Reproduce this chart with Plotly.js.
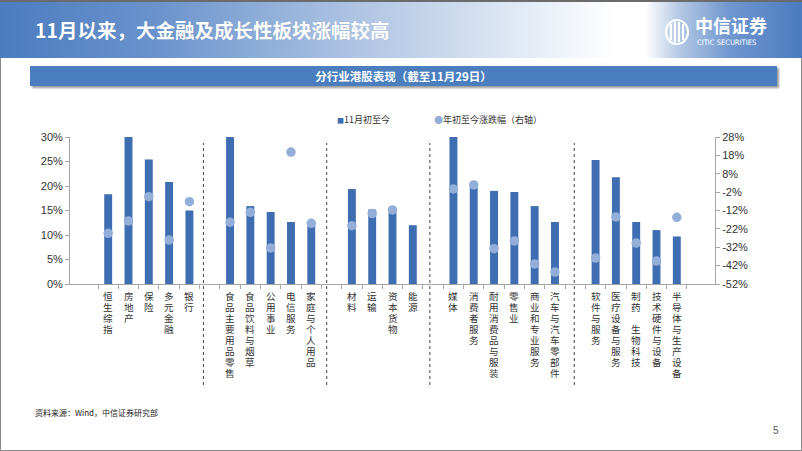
<!DOCTYPE html>
<html>
<head>
<meta charset="utf-8">
<script src="https://cdn.plot.ly/plotly-3.0.1.min.js"></script>
<style>
  html, body { margin:0; padding:0; width:802px; height:451px; overflow:hidden; background:#fff; }
  #frame { position:absolute; left:0; top:0; width:802px; height:451px; box-sizing:border-box; border:1px solid #8a8a8a; }
  #header { position:absolute; left:0; top:0; width:802px; height:58px; box-sizing:border-box; border-top:2px solid #6b6b6b;
    background:linear-gradient(to right, #4a7cc0 0px, #6b94cd 160px, #a6bee0 330px, #dbe5f3 500px, #ffffff 615px, #ffffff 645px, #b3c7e4 680px, #6f97cf 730px, #4a7bc0 802px); }
  #title { position:absolute; left:35px; top:15px; line-height:26px; font-family:"Noto Sans CJK SC", sans-serif; font-weight:bold; font-size:19.5px; color:#fff; white-space:nowrap; text-shadow:0 0 1px rgba(0,0,0,0.15); }
  #logoCn { position:absolute; left:695px; top:17px; line-height:20px; height:20px; font-family:"Liberation Sans","Noto Sans CJK SC", sans-serif; font-weight:bold; font-size:18px; color:#fff; white-space:nowrap; }
  #logoEn { position:absolute; left:697px; top:39px; line-height:8px; height:8px; font-family:"DejaVu Sans Condensed","Liberation Sans Narrow","Liberation Sans",sans-serif; font-size:7.5px; color:#fff; white-space:nowrap; }
  #logoSvg { position:absolute; left:662px; top:18px; }
  #banner { position:absolute; left:30px; top:66px; width:747px; height:20px; background:#4a7ebf; box-shadow:2px 2px 2px #9a9a9a;
    font-family:"Noto Sans CJK SC", sans-serif; font-weight:bold; font-size:11.5px; color:#fff; text-align:center; line-height:20px; }
  #source { position:absolute; left:35px; top:407px; line-height:12px; font-family:"Noto Sans CJK SC", sans-serif; font-size:8px; color:#222; }
  #page { position:absolute; left:773px; top:425px; line-height:12px; font-family:"Liberation Sans", sans-serif; font-size:10px; color:#555; }
  #chart { position:absolute; left:0; top:0; width:802px; height:451px; z-index:2; }
</style>
</head>
<body>
<div id="frame"></div>
<div id="header">
  <div id="title">11月以来，大金融及成长性板块涨幅较高</div>
</div>
<svg id="logoSvg" width="30" height="30" viewBox="0 0 30 30">
  <ellipse cx="15" cy="14" rx="11" ry="12" fill="none" stroke="#fff" stroke-width="2"/>
  <rect x="8" y="6" width="2" height="16" fill="#fff"/>
  <rect x="12" y="4" width="2" height="20" fill="#fff"/>
  <rect x="16" y="4" width="2" height="20" fill="#fff"/>
  <rect x="20" y="6" width="2" height="16" fill="#fff"/>
</svg>
<div id="logoCn">中信证券</div>
<div id="logoEn">CITIC SECURITIES</div>
<div id="banner">分行业港股表现（截至11月29日）</div>
<div id="source">资料来源：Wind，中信证券研究部</div>
<div id="page">5</div>
<div id="chart"></div>
<script>
// ---- data ----
var categories = ['恒生综指','房地产','保险','多元金融','银行',' ',
  '食品主要用品零售','食品饮料与烟草','公用事业','电信服务','家庭与个人用品','  ',
  '材料','运输','资本货物','能源','   ',
  '媒体','消费者服务','耐用消费品与服装','零售业','商业和专业服务','汽车与汽车零部件','    ',
  '软件与服务','医疗设备与服务','制药、生物科技','技术硬件与设备','半导体与生产设备'];
var mtdChange = [18.3, 31, 25.4, 20.8, 15.0, null,
  31, 15.9, 14.7, 12.65, 12.2, null,
  19.4, 15.2, 15.1, 12.0, null,
  31, 20.1, 19.0, 18.8, 15.9, 12.65, null,
  25.3, 21.8, 12.65, 11.0, 9.7];
var ytdChange = [-24.4, -17.7, -4.5, -28.1, -7.2, null,
  -18.4, -13.0, -32.4, 19.8, -19.0, null,
  -20.3, -13.7, -11.7, null, null,
  -0.3, 1.9, -32.8, -28.6, -41.1, -45.5, null,
  -37.9, -15.5, -29.7, -39.5, -15.7];
var seriesNames = ['11月初至今', '年初至今涨跌幅（右轴）'];
var leftTicks = [0, 5, 10, 15, 20, 25, 30];
var rightTicks = [-52, -42, -32, -22, -12, -2, 8, 18, 28];
var dividerSlots = [4.69, 10.76, 15.84, 22.95];

var barColor = '#3f6db1';
var dotColor = '#93afd9';
var numFont = 'Liberation Sans, Arial, sans-serif';
var cjkFont = 'Noto Sans CJK SC, sans-serif';
var labelFont = 'Liberation Sans, Noto Sans CJK SC, sans-serif';

var traces = [
  { type:'bar', name:seriesNames[0], x:categories, y:mtdChange, marker:{color:barColor}, showlegend:false, hoverinfo:'x+y' },
  { type:'scatter', mode:'markers', name:seriesNames[1], x:categories, y:ytdChange, yaxis:'y2',
    marker:{color:dotColor, size:9.5}, showlegend:false, hoverinfo:'x+y' }
];

var annotations = [];
// vertical category labels, one character per line
categories.forEach(function(cat){
  Array.from(cat.trim()).forEach(function(ch, k){
    if (ch === '、') return;
    annotations.push({ x:cat, xref:'x', y:0, yref:'y', yanchor:'middle', xanchor:'center',
      yshift:-(12.7 + k*10.9), text:ch, showarrow:false, borderpad:0,
      font:{family:labelFont, size:9.6, color:'#333'} });
  });
});
// legend
annotations.push({ xref:'paper', yref:'paper', x:0.411, y:1.116, xanchor:'left', yanchor:'middle', showarrow:false,
  text:'<span style="color:'+barColor+';font-size:7px">■</span>'+seriesNames[0], font:{family:cjkFont, size:9, color:'#333'} });
annotations.push({ xref:'paper', yref:'paper', x:0.562, y:1.116, xanchor:'left', yanchor:'middle', showarrow:false,
  text:'<span style="color:'+dotColor+';font-size:9px">●</span>'+seriesNames[1], font:{family:cjkFont, size:9, color:'#333'} });

var shapes = dividerSlots.map(function(s){
  return { type:'line', xref:'x', yref:'paper', x0:s, x1:s, y0:-0.687, y1:0.959,
    line:{color:'#444', width:1, dash:'dot'} };
});

var layout = {
  width:802, height:451,
  margin:{l:70, r:87, t:137, b:167, pad:0},
  paper_bgcolor:'rgba(0,0,0,0)', plot_bgcolor:'rgba(0,0,0,0)',
  showlegend:false,
  bargap:0.61,
  font:{family:numFont, size:11, color:'#333'},
  xaxis:{ type:'category', categoryorder:'array', categoryarray:categories,
    showticklabels:false, showline:true, linecolor:'#a6a6a6', linewidth:1,
    ticks:'outside', tickson:'boundaries', ticklen:4, tickcolor:'#a6a6a6',
    showgrid:false, zeroline:false, fixedrange:true },
  yaxis:{ range:[0,30], tickmode:'array', tickvals:leftTicks, ticktext:leftTicks.map(function(v){return v+'%';}),
    showline:true, linecolor:'#a6a6a6',
    ticks:'outside', ticklen:4, tickcolor:'#a6a6a6', showgrid:false, zeroline:false,
    tickfont:{family:numFont, size:11, color:'#333'}, fixedrange:true },
  yaxis2:{ overlaying:'y', side:'right', range:[-52,28], tickmode:'array', tickvals:rightTicks,
    ticktext:rightTicks.map(function(v){return v+'%';}),
    showline:true, linecolor:'#a6a6a6', ticks:'outside', ticklen:4, tickcolor:'#a6a6a6',
    showgrid:false, zeroline:false, tickfont:{family:numFont, size:11, color:'#333'}, fixedrange:true },
  annotations:annotations,
  shapes:shapes
};

Plotly.newPlot('chart', traces, layout, {displayModeBar:false, staticPlot:true});
</script>
</body>
</html>
